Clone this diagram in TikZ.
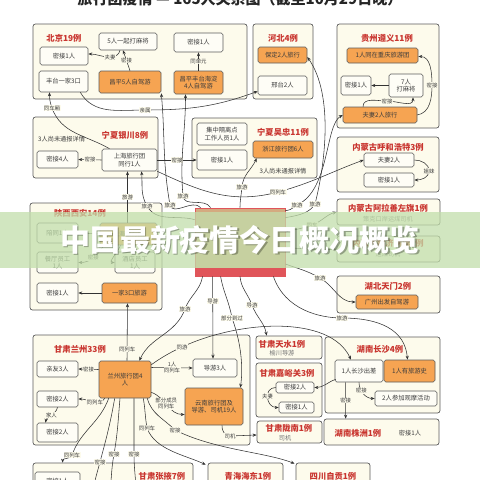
\documentclass[tikz,border=0pt]{standalone}
\usepackage{fontspec}
\setmainfont{Noto Sans CJK SC}
\usetikzlibrary{arrows.meta,calc}
\definecolor{grpfill}{HTML}{FDFBEC}
\definecolor{grpdraw}{HTML}{5C5C5C}
\definecolor{ibfill}{HTML}{FEFDF6}
\definecolor{orng}{HTML}{F6A452}
\definecolor{ttlred}{HTML}{C9352F}
\definecolor{txt}{HTML}{3C3C3C}
\definecolor{ctan}{HTML}{D4AA80}
\definecolor{cred}{HTML}{E0555A}
\definecolor{bnr}{HTML}{C2DEAB}
\tikzset{
 grp/.style={draw=grpdraw, fill=grpfill, rounded corners=2.5pt, line width=0.7pt, inner sep=0pt},
 ib/.style={draw=grpdraw, fill=ibfill, rounded corners=1.8pt, line width=0.6pt, inner sep=0pt, font=\fontsize{6.3}{7.3}\selectfont, text=txt, align=center},
 ob/.style={ib, fill=orng},
 ttl/.style={font=\fontsize{8.3}{9}\selectfont\bfseries, text=ttlred, inner sep=0pt},
 note/.style={font=\fontsize{6.2}{7}\selectfont, text=txt, inner sep=0pt},
 lbl/.style={font=\fontsize{5.4}{6}\selectfont, text=txt, fill=grpfill, inner sep=0.4pt, align=center},
 arr/.style={-{Stealth[length=4pt,width=3.2pt]}, draw=black!80, line width=0.55pt},
}
\begin{document}
\begin{tikzpicture}[x=1pt,y=-1pt]
\useasboundingbox (0,0) rectangle (480,480);
\clip (0,0) rectangle (480,480);
\fill[white] (0,0) rectangle (480,480);
\node[font=\fontsize{15}{16}\selectfont\bfseries, text=black!85, anchor=base] (title) at (240,4) {旅行团疫情 — 165人关系图（截至10月29日晚）};
% groups
\node[grp, minimum width=214, minimum height=75] (gBJ) at (140,61.5) {};
\node[grp, minimum width=60, minimum height=75] (gHB) at (283,61.5) {};
\node[grp, minimum width=102, minimum height=104] (gGZ) at (388,76) {};
\node[grp, minimum width=125, minimum height=61] (gYC) at (95.5,147.5) {};
\node[grp, minimum width=125, minimum height=60] (gWZ) at (254.5,148) {};
\node[grp, minimum width=102, minimum height=55] (gHH) at (388,164.5) {};
\node[grp, minimum width=103, minimum height=26] (gALX) at (388.5,212) {};
\node[grp, minimum width=103, minimum height=26] (gEJ) at (388.5,249) {};
\node[grp, minimum width=103, minimum height=37] (gHBT) at (388.5,294.5) {};
\node[grp, minimum width=132, minimum height=107] (gSX) at (96,256.5) {};
\node[grp, minimum width=217, minimum height=110] (gLZ) at (141.5,390) {};
\node[grp, minimum width=66, minimum height=23] (gTS) at (289,347.5) {};
\node[grp, minimum width=66, minimum height=54] (gJY) at (289,390) {};
\node[grp, minimum width=65, minimum height=22] (gLN) at (289.5,432) {};
\node[grp, minimum width=115, minimum height=76] (gCS) at (382.5,375) {};
\node[grp, minimum width=115, minimum height=26] (gZZ) at (381.5,432) {};
\node[grp, minimum width=160, minimum height=37] (gZY) at (113,481.5) {};
\node[grp, minimum width=75, minimum height=37] (gQH) at (245.5,481.5) {};
\node[grp, minimum width=74, minimum height=37] (gSC) at (333,481.5) {};
% Beijing
\node[ttl] (tBJ) at (64,38) {北京19例};
\node[ib, minimum width=48, minimum height=18] (bjm1) at (64,56) {密接1人};
\node[ib, minimum width=58, minimum height=17] (bjmj) at (128,41.5) {5人一起打麻将};
\node[ib, minimum width=49, minimum height=19] (bjm2) at (198.5,42.5) {密接1人};
\node[ib, minimum width=49, minimum height=21] (bjft) at (63.5,81.5) {丰台一家3口};
\node[ob, minimum width=62, minimum height=22] (bjcp) at (130,82) {昌平5人自驾游};
\node[ob, minimum width=49, minimum height=23] (bjcf) at (198.5,82.5) {昌平丰台海淀\\4人自驾游};
% Hebei
\node[ttl] (tHB) at (283,38) {河北4例};
\node[ob, minimum width=49, minimum height=16] (hbbd) at (282.5,55) {保定2人旅行};
\node[ib, minimum width=49, minimum height=19] (hbxt) at (282.5,85.5) {邢台2人};
% Guizhou
\node[ttl] (tGZ) at (387,38) {贵州遵义11例};
\node[ob, minimum width=71, minimum height=15] (gzcq) at (382.5,55.5) {1人同在重庆旅游团};
\node[ib, minimum width=30, minimum height=19] (gzm) at (356,85.5) {密接1人};
\node[ib, minimum width=34, minimum height=23] (gzmj) at (406,85.5) {7人\\打麻将};
\node[ob, minimum width=74, minimum height=16] (gzfq) at (380,115) {夫妻2人旅行};
% Yinchuan
\node[ttl] (tYC) at (125,135) {宁夏银川8例};
\node[note, anchor=west] (nYC) at (38,139) {3人尚未通报详情};
\node[ib, minimum width=41, minimum height=17] (ycm4) at (57.5,159.5) {密接4人};
\node[ib, minimum width=55, minimum height=22] (ycsh) at (129.5,160) {上海旅行团\\同行1人};
% Wuzhong
\node[ib, minimum width=50, minimum height=22] (wzgl) at (222,134) {集中隔离点\\工作人员1人};
\node[ib, minimum width=50, minimum height=20] (wzm) at (222,160) {密接1人};
\node[ttl] (tWZ) at (283,132) {宁夏吴忠11例};
\node[ob, minimum width=60, minimum height=17] (wzzj) at (283,149.5) {浙江旅行团6人};
\node[note] (nWZ) at (283,171) {3人尚未通报详情};
% Hohhot
\node[ttl] (tHH) at (388,147) {内蒙古呼和浩特3例};
\node[ib, minimum width=50, minimum height=14] (hhfq) at (389,160) {夫妻2人};
\node[ib, minimum width=50, minimum height=14] (hhm) at (389,180) {密接1人};
% Alxa, Ejina, Hubei
\node[ttl] (tALX) at (388,208) {内蒙古阿拉善左旗1例};
\node[note, text=black!55] (nALX) at (388,219) {策克口岸运煤司机};
\node[ttl] (tEJ) at (388,243) {内蒙古额济纳旗1例};
\node[note, text=black!55] (nEJ) at (388,254) {运煤司机};
\node[ttl] (tHBT) at (388,286) {湖北天门2例};
\node[ob, minimum width=62, minimum height=14] (hbgz) at (387,302) {广州出发自驾游};
% Shaanxi
\node[ttl] (tSX) at (80,213) {陕西西安14例};
\node[ib, minimum width=41, minimum height=20] (sxpt) at (57.5,233) {陪同1人};
\node[ob, minimum width=57, minimum height=22] (sxly) at (128.5,234) {上海旅行团};
\node[ib, minimum width=41, minimum height=21] (sxct) at (57.5,262.5) {餐厅员工\\1人};
\node[ib, minimum width=40, minimum height=21] (sxjd) at (135,262.5) {酒店员工\\1人};
\node[ib, minimum width=41, minimum height=20] (sxm) at (57.5,293) {密接1人};
\node[ob, minimum width=55, minimum height=20] (sxjk) at (129.5,293) {一家3口旅游};
% centre
\node[draw=cred, fill=ctan, line width=0.8pt, minimum width=90, minimum height=68, inner sep=0pt] (C) at (240,242) {};
\fill[cred] (195,268) rectangle (285,276);
% Lanzhou
\node[ttl] (tLZ) at (80,349) {甘肃兰州33例};
\node[ib, minimum width=41, minimum height=16] (lzqy) at (57.5,369) {亲友3人};
\node[ob, minimum width=52, minimum height=37] (lzlx) at (125,379.5) {兰州旅行团4\\人};
\node[ib, minimum width=41, minimum height=16] (lzm2a) at (57.5,399) {密接2人};
\node[ib, minimum width=41, minimum height=19] (lzm2b) at (57.5,432.5) {密接2人};
\node[ib, minimum width=44, minimum height=18] (lzdy) at (215,368) {导游3人};
\node[ob, minimum width=58, minimum height=37] (lzyn) at (214,406.5) {云南旅行团及\\导游、司机19人};
% Gansu right
\node[ttl] (tTS) at (282,344) {甘肃天水1例};
\node[note, text=black!55] (nTS) at (282,353.5) {榆川导游};
\node[ttl] (tJY) at (287,373) {甘肃嘉峪关3例};
\node[ib, minimum width=38, minimum height=11] (jym2) at (295,387.5) {密接2人};
\node[ib, minimum width=35, minimum height=11] (jym1) at (296.5,407.5) {密接1人};
\node[ttl] (tLN) at (289,428.5) {甘肃陇南1例};
\node[note, text=black!55] (nLN) at (285,438) {司机};
% Hunan
\node[ttl] (tCS) at (380,349) {湖南长沙4例};
\node[ib, minimum width=48, minimum height=22] (cscc) at (359,371) {1人长沙出差};
\node[ob, minimum width=51, minimum height=22] (csly) at (409.5,371) {1人有旅游史};
\node[ib, minimum width=62, minimum height=15] (csgm) at (406,398.5) {2人参加观摩活动};
\node[ttl] (tZZ) at (358,433) {湖南株洲1例};
\node[note] (nZZ) at (410,433) {密接1人};
% bottom row
\node[ttl] (tZY) at (162,476) {甘肃张掖7例};
\node[ib, minimum width=45, minimum height=18] (zym) at (57.5,481) {密接1人};
\node[ttl] (tQH) at (248,476) {青海海东1例};
\node[ttl] (tSC) at (333,476) {四川自贡1例};
\coordinate (zyA) at (93,495);
\coordinate (zyB) at (110,495);
\coordinate (zyC) at (136,495);
% ---- connectors ----
\draw[arr] (bjcp.north) -- node[lbl]{密接} ($(bjmj.south)+(-5,0)$);
\draw[arr] ($(bjmj.south)+(-8,0)$) to[out=-100,in=0] (110,57) node[lbl]{夫妻} to[out=180,in=0] ($(bjm1.east)+(0,-2)$);
\draw[arr] (bjcf.north) -- node[lbl]{同单元} (bjm2.south);
\draw[arr] ($(ycsh.north)+(-20,0)$) to[out=150,in=-70] (52,108) node[lbl]{同车厢} to[out=110,in=-90] ($(bjft.south)+(-14,0)$);
\draw[arr] ($(bjft.south east)+(-8,0)$) to[out=-60,in=180] (145,110) node[lbl]{亲属} to[out=0,in=200] ($(hbxt.south west)+(0,-4)$);
\draw[arr] (ycsh.west) -- node[lbl]{密接} (ycm4.east);
\draw[arr] (ycsh.east) -- node[lbl]{密接} (wzm.west);
\draw[arr] (ycsh.south east) to[out=-25,in=195] (278,192) node[lbl]{同列车} to[out=15,in=200] (hhfq.west);
\draw[arr] ($(sxly.north)+(-1,0)$) -- node[lbl]{旅游} ($(ycsh.south)+(-2,0)$);
\draw[arr] ($(C.north west)+(0,12)$) to[out=165,in=-60] (147,206) node[lbl]{旅游} to[out=120,in=-85] ($(ycsh.south)+(12,0)$);
\draw[arr] ($(C.north west)+(6,0)$) to[out=130,in=-75] (170,205) node[lbl]{旅游} to[out=100,in=-85] (bjcp.south east);
\draw[arr] ($(C.north west)+(16,0)$) to[out=120,in=-85] (183,196) node[lbl]{旅游} to[out=95,in=-90] ($(bjcf.south)+(-13,0)$);
\draw[arr] (C.north) to[out=90,in=-95] (242,187) node[lbl]{旅游} to[out=85,in=-115] ($(wzzj.south west)+(4,0)$);
\draw[arr] ($(C.north east)+(0,10)$) .. controls (302,215) and (310,212) .. (315,204) node[lbl]{旅游} .. controls (325,165) and (334,95) .. ($(hbbd.east)+(0,2)$);
\draw[arr] ($(C.north east)+(0,3)$) .. controls (290,210) .. (297,205) node[lbl]{旅游} .. controls (330,190) and (325,125) .. (gzfq.west);
\draw[arr] ($(C.east)+(0,-10)$) to[out=15,in=200] (312,225) node[lbl]{同车} to[out=20,in=195] (gALX.west);
\draw[arr] ($(C.east)+(0,6)$) to[out=0,in=185] (gEJ.west);
\draw[arr] ($(C.east)+(0,22)$) to[out=-20,in=150] (320,278) node[lbl]{旅游} to[out=-30,in=180] (hbgz.west);
\draw[arr] ($(C.south west)+(8,0)$) to[out=-100,in=70] (185,309) node[lbl]{旅游} to[out=-110,in=65] ($(lzlx.north east)+(-12,0)$);
\draw[arr] ($(C.south west)+(18,0)$) -- node[lbl,pos=0.3]{导游} ($(lzdy.north)+(-2,0)$);
\draw[arr] ($(C.south west)+(26,0)$) to[out=-80,in=100] (232,318) node[lbl]{部分到过} .. controls (242,345) and (243,370) .. ($(lzyn.north east)+(-3,0)$);
\draw[arr] (C.south) to[out=-85,in=110] (252,305) node[lbl]{导游} to[out=-70,in=100] ($(gTS.north west)+(11,0)$);
\draw[arr] ($(lzlx.north east)+(0,4)$) to[out=35,in=205] (182,347) node[lbl]{同游} .. controls (240,320) and (330,315) .. ($(cscc.north)+(-8,0)$);
\draw[arr] ($(C.south east)+(-12,0)$) .. controls (285,310) and (320,318) .. (342,318) node[lbl]{旅游} .. controls (380,318) and (405,330) .. ($(csly.north)+(-2,0)$);
% Lanzhou internal
\draw[arr] ($(lzlx.west)+(0,-10)$) -- node[lbl]{密接} (lzqy.east);
\draw[arr] ($(lzlx.south west)+(6,0)$) to[out=-120,in=0] node[lbl,pos=0.45]{同列车} (lzm2a.east);
\draw[arr] (lzm2a.south) to[out=-100,in=80] node[lbl]{家人} ($(lzm2b.north)+(-12,0)$);
\draw[arr] ($(lzlx.east)+(0,-12)$) -- node[lbl]{1人\\同列车} (lzdy.west);
\draw[arr] ($(lzlx.south east)+(0,-6)$) to[out=-20,in=180] node[lbl,pos=0.45]{部分成员\\同列车} ($(lzyn.west)+(0,8)$);
\draw[arr] ($(lzyn.south)+(8,0)$) to[out=-95,in=180] (230,436) node[lbl]{司机} -- ($(gLN.west)+(0,3)$);
\draw[arr] ($(lzlx.south east)+(-8,0)$) to[out=-80,in=100] (147,428) node[lbl]{同列车} .. controls (155,450) and (185,455) .. ($(gQH.north west)+(-2,2)$);
\draw[arr] ($(lzlx.south east)+(-4,0)$) to[out=-75,in=135] (175,430) node[lbl]{密接} .. controls (215,450) and (265,452) .. ($(gSC.north west)+(-1,1)$);
\draw[arr] ($(lzlx.south west)+(10,0)$) to[out=-110,in=70] (72,455) node[lbl]{同列车} to[out=-110,in=90] ($(gZY.north west)+(30,0)$);
\draw[arr] ($(lzlx.south west)+(16,0)$) to[out=-100,in=75] (100,462) node[lbl]{密接} to[out=-105,in=85] (zyA);
\draw[arr] ($(lzlx.south)+(-5,0)$) to[out=-95,in=80] (114,454) node[lbl]{密接} to[out=-100,in=85] (zyB);
\draw[arr] ($(lzlx.south)+(9,0)$) to[out=-90,in=90] (134,454) node[lbl]{密接} to[out=-90,in=90] (zyC);
\draw[arr] ($(lzlx.north)+(2,0)$) -- node[lbl,pos=0.2]{同列车} ($(sxjk.south)+(-2,0)$);
% Shaanxi internal
\draw[arr] (sxly.west) -- (sxpt.east);
\draw[arr] ($(sxly.south west)+(4,0)$) to[out=-120,in=0] node[lbl]{密接} (sxct.east);
\draw[arr] ($(sxly.south)+(-8,0)$) to[out=-110,in=180] (sxjd.west);
\draw[arr] (sxjk.west) -- (sxm.east);
% Guizhou internal
\draw[arr] (gzmj.west) -- (gzm.east);
\draw[arr] ($(gzfq.north)+(-17,0)$) to[out=90,in=180] (387,101) node[lbl]{密接} to[out=0,in=-90] ($(gzmj.south)+(7,0)$);
\draw[arr] (gzfq.east) to[out=10,in=-90] (432,85) node[lbl]{密接} to[out=90,in=0] ($(gzcq.east)+(0,1)$);
% Hohhot
\draw[arr] (hhfq.east) to[out=0,in=90] (429,171) node[lbl]{姐妹} to[out=-90,in=0] (hhm.east);
% Hunan / Jiayuguan
\draw[arr] ($(cscc.south west)+(1,-3)$) to[out=200,in=0] (jym2.east);
\draw[arr] (jym2.west) to[out=180,in=180,looseness=1.6] node[lbl,pos=0.45]{夫妻} (jym1.west);
\draw[arr] (cscc.south) to[out=-90,in=180] node[lbl,pos=0.35]{密接} (csgm.west);
\draw[arr] ($(cscc.south west)+(11,0)$) -- node[lbl]{密接} ($(gZZ.north west)+(22,0)$);
% banner
\fill[bnr, opacity=0.75] (0,212) rectangle (480,268);
\node[font=\fontsize{30}{31}\selectfont\bfseries, text=black, opacity=0.3] (bshadow) at (241.3,241.3) {中国最新疫情今日概况概览};
\node[font=\fontsize{30}{31}\selectfont\bfseries, text=white] (btext) at (240,240) {中国最新疫情今日概况概览};
\end{tikzpicture}
\end{document}
